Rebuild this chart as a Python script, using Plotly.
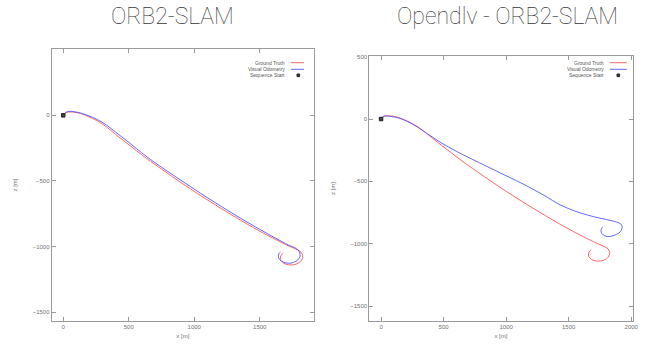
import plotly.graph_objects as go

# ---------------- data ----------------
gt_x = [0, 15, 40, 80, 130, 190, 260, 330, 400, 480, 560, 640, 760, 900, 1050, 1200,
        1350, 1450, 1550, 1650, 1740, 1790, 1815, 1828, 1822, 1800, 1760, 1720, 1685,
        1662, 1658, 1668, 1680]
gt_z = [0, 15, 25, 24, 15, -8, -42, -88, -145, -208, -270, -331, -416, -513, -612, -706,
        -796, -854, -909, -960, -1003, -1025, -1042, -1070, -1098, -1122, -1137, -1138,
        -1127, -1105, -1078, -1058, -1048]

vo1_x = [0, 15, 40, 80, 130, 190, 260, 330, 400, 480, 560, 640, 760, 900, 1050, 1200,
         1350, 1500, 1620, 1720, 1780, 1800, 1808, 1800, 1775, 1740, 1700, 1665, 1645,
         1642, 1650, 1656]
vo1_z = [0, 20, 30, 28, 18, -2, -32, -74, -128, -190, -254, -317, -402, -496, -595, -690,
         -782, -868, -935, -988, -1015, -1035, -1062, -1090, -1112, -1125, -1124, -1110,
         -1088, -1065, -1048, -1042]

vo2_x = [0, 15, 30, 80, 150, 250, 366, 480, 600, 713, 850, 1000, 1150, 1300, 1434, 1550,
         1650, 1750, 1830, 1880, 1915, 1928, 1920, 1900, 1865, 1825, 1790, 1765, 1758,
         1765, 1772]
vo2_z = [0, 18, 24, 20, 5, -40, -115, -190, -258, -315, -382, -455, -528, -610, -689, -738,
         -770, -795, -812, -825, -840, -863, -892, -915, -932, -942, -937, -918, -895,
         -875, -865]

start_x = [0]
start_z = [0]

titles = ["ORB2-SLAM", "Opendlv - ORB2-SLAM"]
legend_labels = ["Ground Truth", "Visual Odometry", "Sequence Start"]
tick_vals_x = [0, 500, 1000, 1500, 2000]
tick_vals_y = [500, 0, -500, -1000, -1500]

RED = "#ff5555"
BLUE = "#5555ff"
GRID = "#9a9a9a"
TXT = "#707070"

# body margin is removed by the post script: figure fills the window
W, H, OFF = 648, 348, 0
def px(p):   # page x -> paper x
    return (p - OFF) / W
def py(p):   # page y -> paper y
    return 1 - (p - OFF) / H

fig = go.Figure()

panels = [
    dict(xa="x", ya="y", vo_x=vo1_x, vo_z=vo1_z),
    dict(xa="x2", ya="y2", vo_x=vo2_x, vo_z=vo2_z),
]
for p in panels:
    fig.add_trace(go.Scatter(x=gt_x, y=gt_z, mode="lines", line=dict(color=RED, width=0.9, shape="spline"),
                             xaxis=p["xa"], yaxis=p["ya"], showlegend=False))
    fig.add_trace(go.Scatter(x=p["vo_x"], y=p["vo_z"], mode="lines",
                             line=dict(color=BLUE, width=0.9, shape="spline"),
                             xaxis=p["xa"], yaxis=p["ya"], showlegend=False))
    fig.add_trace(go.Scatter(x=start_x, y=start_z, mode="markers",
                             marker=dict(symbol="square", size=3.5, color="#444",
                                         line=dict(width=1, color="#222")),
                             xaxis=p["xa"], yaxis=p["ya"], showlegend=False))

axis_common = dict(showline=True, linecolor=GRID, linewidth=1, mirror="ticks", ticks="inside",
                   ticklen=4, tickcolor=GRID, showgrid=False, zeroline=False, automargin=False,
                   tickfont=dict(family="Liberation Sans", size=6, color=TXT),
                   title_font=dict(family="Liberation Sans", size=6, color=TXT),
                   tickvals=tick_vals_x)

fig.update_layout(
    width=W, height=H, margin=dict(l=0, r=0, t=0, b=0, autoexpand=False),
    paper_bgcolor="white", plot_bgcolor="white", showlegend=False,
    xaxis=dict(axis_common, domain=[px(51.7), px(314)], range=[-88, 1914], anchor="y",
               title=dict(text="x [m]", standoff=4)),
    yaxis=dict(axis_common, domain=[py(321), py(49)], range=[-1566, 505], anchor="x",
               tickvals=tick_vals_y[1:], title=dict(text="z [m]", standoff=14)),
    xaxis2=dict(axis_common, domain=[px(369.3), px(632.5)], range=[-94, 2010], anchor="y2",
                title=dict(text="x [m]", standoff=4)),
    yaxis2=dict(axis_common, domain=[py(321), py(56)], range=[-1619, 505], anchor="x2",
                tickvals=tick_vals_y, title=dict(text="z [m]", standoff=14)),
)

# titles
title_pos = [172.5, 507]
for t, cx in zip(titles, title_pos):
    fig.add_annotation(text=t, x=px(cx), y=py(17), xref="paper", yref="paper",
                       showarrow=False, xanchor="center", yanchor="middle",
                       font=dict(family="Roboto", size=23, color="#333", weight=100))

# custom gnuplot-style legends (text right, sample at right)
legend_geo = [
    dict(text_end=287, l0=291, l1=304, mk=298.3),
    dict(text_end=606, l0=610, l1=626.7, mk=618.3),
]
rows = [62.7, 69.3, 75.3]
for g in legend_geo:
    for lab, ry in zip(legend_labels, rows):
        fig.add_annotation(text=lab, x=px(g["text_end"]), y=py(ry), xref="paper", yref="paper",
                           showarrow=False, xanchor="right", yanchor="middle",
                           font=dict(family="Liberation Sans", size=5, color="#555"))
    for col, ry in zip([RED, BLUE], rows[:2]):
        fig.add_shape(type="line", xref="paper", yref="paper",
                      x0=px(g["l0"]), x1=px(g["l1"]), y0=py(ry), y1=py(ry),
                      line=dict(color=col, width=0.9))
    fig.add_shape(type="rect", xref="paper", yref="paper",
                  x0=px(g["mk"] - 1.3), x1=px(g["mk"] + 1.3),
                  y0=py(rows[2] + 1.3), y1=py(rows[2] - 1.3),
                  line=dict(color="#222", width=1), fillcolor="#444")

fig.write_html("out.html", config={"displayModeBar": False},
               post_script="document.body.style.margin='0';document.body.style.overflow='hidden';")
